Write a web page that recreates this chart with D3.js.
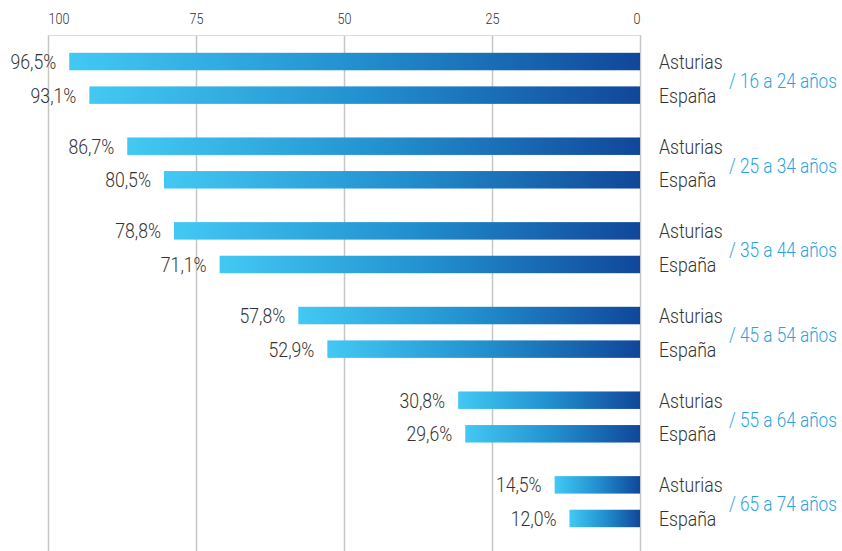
<!DOCTYPE html>
<html><head><meta charset="utf-8">
<script src="https://cdn.jsdelivr.net/npm/d3@7"></script>
<style>
body{margin:0;background:#fff;}
text{font-family:"Roboto",sans-serif;font-weight:300;}
</style></head>
<body><svg id="c" width="842" height="551"></svg>
<script>
const groups = ["/ 16 a 24 años","/ 25 a 34 años","/ 35 a 44 años","/ 45 a 54 años","/ 55 a 64 años","/ 65 a 74 años"];
const series = ["Asturias","España"];
const asturias = [96.5, 86.7, 78.8, 57.8, 30.8, 14.5];
const espana = [93.1, 80.5, 71.1, 52.9, 29.6, 12.0];
const ticks = [100, 75, 50, 25, 0];

const SX = 0.84;
const svg = d3.select("#c");
const x = d3.scaleLinear().domain([100, 0]).range([48.5, 640.5]);
const y0 = d3.scaleBand().domain(groups).range([36, 544]);
const y1 = d3.scaleBand().domain(series).range([0, y0.bandwidth()]).paddingInner(0.48).paddingOuter(0.5);

const defs = svg.append("defs");
const grad = defs.append("linearGradient").attr("id","g").attr("x1","0").attr("x2","1").attr("y1","0").attr("y2","0");
grad.append("stop").attr("offset","0%").attr("stop-color","#42c9f3");
grad.append("stop").attr("offset","50%").attr("stop-color","#2290cf");
grad.append("stop").attr("offset","100%").attr("stop-color","#10479a");

// grid
svg.append("g").selectAll("line").data(ticks).join("line")
  .attr("x1", d => x(d)).attr("x2", d => x(d))
  .attr("y1", 35).attr("y2", 551)
  .attr("stroke", "#c6c6c6").attr("stroke-width", 1.5);
svg.append("line").attr("x1", x(100)).attr("x2", x(0)).attr("y1", 35.5).attr("y2", 35.5)
  .attr("stroke", "#dcdcdc").attr("stroke-width", 1);

// tick labels
const ag = svg.append("g");
ag.selectAll("text").data(ticks).join("text")
  .attr("transform", d => `translate(${x(d)},24) scale(${SX},1)`)
  .attr("text-anchor", (d,i) => i === 0 ? "start" : (i === ticks.length-1 ? "end" : "middle"))
  .attr("font-size", 15).attr("fill","#333")
  .text(d => d);

const rows = [];
groups.forEach((g,i)=>{
  rows.push({g, s:"Asturias", v:asturias[i]});
  rows.push({g, s:"España", v:espana[i]});
});
const cy = d => y0(d.g) + y1(d.s) + y1.bandwidth()/2;

const rg = svg.append("g");
rg.selectAll("rect").data(rows).join("rect")
  .attr("x", d => x(d.v)).attr("width", d => x(0) - x(d.v) - 0.5)
  .attr("y", d => y0(d.g) + y1(d.s)).attr("height", y1.bandwidth())
  .attr("fill","url(#g)");

rg.selectAll("text.v").data(rows).join("text").attr("class","v")
  .attr("transform", d => `translate(${x(d.v) - 13},${cy(d) + 7.5}) scale(${SX},1)`)
  .attr("text-anchor","end")
  .attr("font-size", 21).attr("fill","#333")
  .text(d => d.v.toFixed(1).replace(".", ",") + "%");

rg.selectAll("text.s").data(rows).join("text").attr("class","s")
  .attr("transform", d => `translate(659,${cy(d) + 7.5}) scale(${SX},1)`)
  .attr("font-size", 21).attr("fill","#333")
  .text(d => d.s);

rg.selectAll("text.g").data(groups).join("text").attr("class","g")
  .attr("transform", d => `translate(729,${y0(d) + (y1("Asturias") + y1("España") + y1.bandwidth())/2 + 9.5}) scale(0.86,1)`)
  .attr("font-size", 20).attr("fill","#2aa3dd")
  .text(d => d);
</script></body></html>
